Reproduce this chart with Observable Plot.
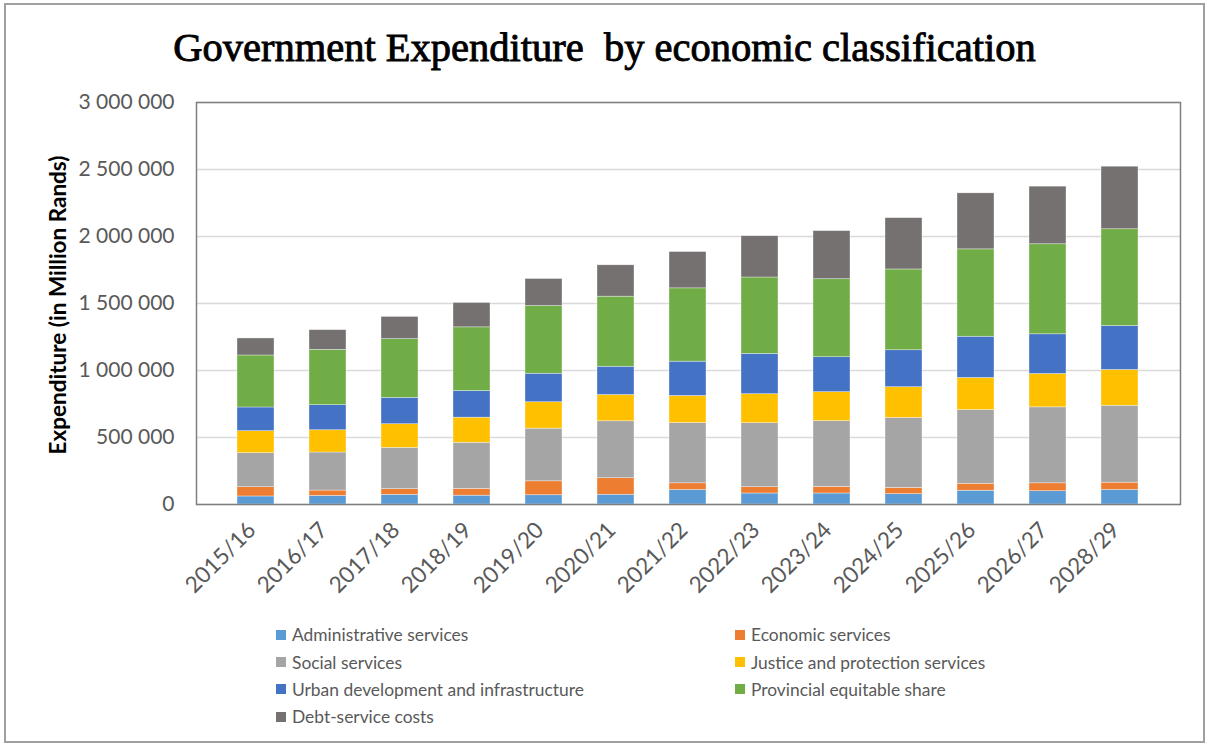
<!DOCTYPE html>
<html>
<head>
<meta charset="utf-8">
<script src="https://cdn.jsdelivr.net/npm/d3@7"></script>
<script src="https://cdn.jsdelivr.net/npm/@observablehq/plot@0.6"></script>
<style>
  body { margin: 0; background: #fff; }
  #wrap { position: relative; width: 1209px; height: 747px; overflow: hidden; font-family: Lato, "Open Sans", sans-serif; }
  #border { position: absolute; left: 4px; top: 3px; width: 1201px; height: 740px; border: 2px solid #a0a0a0; box-sizing: border-box; }
  #title { position: absolute; top: 25px; left: 0; width: 1209px; text-align: center; font-family: "Liberation Serif", serif; font-size: 40.5px; font-weight: normal; -webkit-text-stroke: 0.9px #000; color: #000; white-space: pre; line-height: 1.15; }
  #chart { position: absolute; left: 0; top: 0; }
  #ylab { position: absolute; left: 57px; top: 305px; transform: translate(-50%, -50%) rotate(-90deg); font-weight: bold; font-size: 22.5px; white-space: nowrap; color: #000; }
  #legend { position: absolute; left: 276px; top: 621px; display: grid; grid-template-columns: 459px 300px; grid-auto-rows: 27.4px; font-size: 17.4px; color: #595959; }
  .item { display: flex; align-items: center; white-space: nowrap; }
  .sw { width: 10px; height: 10px; margin-right: 6px; flex: none; }
</style>
</head>
<body>
<div id="wrap">
  <div id="border"></div>
  <div id="chart"></div>
  <div id="title">Government Expenditure  by economic classification</div>
  <div id="ylab">Expenditure (in Million Rands)</div>
  <div id="legend"></div>
</div>
<script>
const years = ["2015/16","2016/17","2017/18","2018/19","2019/20","2020/21","2021/22","2022/23","2023/24","2024/25","2025/26","2026/27","2028/29"];
const series = ["Administrative services","Economic services","Social services","Justice and protection services","Urban development and infrastructure","Provincial equitable share","Debt-service costs"];
const colors = ["#5b9bd5","#ed7d31","#a5a5a5","#ffc000","#4472c4","#70ad47","#767171"];

const administrative = [60000, 64000, 72000, 66000, 69000, 73000, 108000, 82000, 82000, 77000, 103000, 99000, 108000];
const economic       = [69000, 40000, 42000, 50000, 104000, 123000, 50000, 47000, 49000, 47000, 52000, 59000, 55000];
const social         = [254000, 284000, 309000, 345000, 393000, 425000, 450000, 478000, 491000, 522000, 550000, 567000, 574000];
const justice        = [164000, 166000, 176000, 187000, 197000, 196000, 202000, 216000, 216000, 229000, 239000, 249000, 267000];
const urban          = [177000, 187000, 197000, 199000, 213000, 211000, 256000, 301000, 261000, 276000, 308000, 296000, 328000];
const provincial     = [388000, 413000, 438000, 475000, 505000, 523000, 547000, 570000, 582000, 603000, 652000, 672000, 722000];
const debt           = [127000, 147000, 166000, 182000, 202000, 234000, 271000, 308000, 359000, 383000, 418000, 430000, 467000];

const yTicks = [0, 500000, 1000000, 1500000, 2000000, 2500000, 3000000];

const seriesValues = [administrative, economic, social, justice, urban, provincial, debt];
const data = years.flatMap((yr, i) => series.map((s, j) => ({year: yr, series: s, value: seriesValues[j][i]})));
const fmt = d => d3.format(",")(d).replace(/,/g, " ");

const chart = Plot.plot({
  width: 1209,
  height: 620,
  marginTop: 102,
  marginBottom: 116,
  marginLeft: 196,
  marginRight: 29,
  style: {fontFamily: "Lato, 'Open Sans', sans-serif", background: "transparent"},
  x: {domain: years, padding: 0.485, label: null},
  y: {domain: [0, 3000000], label: null},
  color: {domain: series, range: colors},
  marks: [
    Plot.gridY(yTicks, {stroke: "#d9d9d9", strokeOpacity: 1, strokeWidth: 1.5}),
    Plot.barY(data, {x: "year", y: "value", fill: "series", stroke: "#ffffff", strokeWidth: 0.6, strokeOpacity: 0.6}),
    Plot.frame({stroke: "#7f7f7f", strokeWidth: 1.5}),
    Plot.axisY(yTicks, {tickFormat: fmt, tickSize: 0, tickPadding: 22, fontSize: 21, color: "#595959", label: null}),
    Plot.axisX({tickRotate: -45, tickSize: 0, tickPadding: 22, dx: -4, fontSize: 22.5, color: "#595959", label: null})
  ]
});
document.getElementById("chart").appendChild(chart);

const legend = document.getElementById("legend");
series.forEach((s, i) => {
  const item = document.createElement("div");
  item.className = "item";
  const sw = document.createElement("span");
  sw.className = "sw";
  sw.style.background = colors[i];
  const t = document.createElement("span");
  t.textContent = s;
  item.appendChild(sw);
  item.appendChild(t);
  legend.appendChild(item);
});
</script>
</body>
</html>
